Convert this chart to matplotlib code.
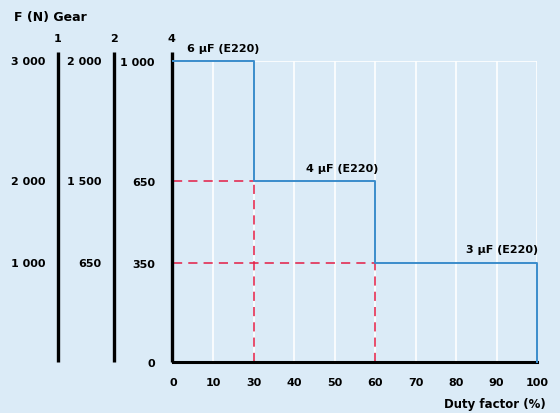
import numpy as np
import matplotlib
matplotlib.use("Agg")
import matplotlib.pyplot as plt

# data
duty = [0, 30, 30, 60, 60, 100, 100]
force = [1000, 1000, 650, 650, 350, 350, 0]
levels = [0, 350, 650, 1000]          # gear 4 force levels (N)
level_pos = [0, 0.33, 0.6, 1.0]       # vertical position of each level on the chart
gear_names = ["1", "2", "4"]
gear1_labels = ["1 000", "2 000", "3 000"]
gear2_labels = ["650", "1 500", "2 000"]
gear4_labels = ["0", "350", "650", "1 000"]
xticks = [0, 10, 30, 40, 50, 60, 70, 80, 90, 100]
caps = ["6 µF (E220)", "4 µF (E220)", "3 µF (E220)"]
cap_x = [0, 60, 100]
cap_y = [1000, 650, 350]
cut_x = [30, 60]
cut_y = [650, 350]

bg = "#dbebf7"
blue = "#3a8ccb"
red = "#e31c45"
plt.rcParams["font.family"] = "DejaVu Sans"
plt.rcParams["font.weight"] = "bold"

fig = plt.figure(figsize=(5.6, 4.14), dpi=100, facecolor=bg)
ax = fig.add_axes([173/560, 1-363/414, 364/560, 301/414], facecolor=bg)

# both axes are spaced evenly per tick, not linearly
yfwd = lambda y: np.interp(y, levels, level_pos)
yinv = lambda p: np.interp(p, level_pos, levels)
ax.set_yscale("function", functions=(yfwd, yinv))
xidx = np.arange(len(xticks))
xfwd = lambda x: np.interp(x, xticks, xidx)
xinv = lambda p: np.interp(p, xidx, xticks)
ax.set_xscale("function", functions=(xfwd, xinv))
ax.set_ylim(0, 1000)
ax.set_xlim(0, 100)

# grid
for x in xticks[1:]:
    ax.axvline(x, color="white", lw=1.2, zorder=0)
ax.axhline(1000, color="white", lw=1.2, zorder=0)

# red guides
for cx, cy in zip(cut_x, cut_y):
    ax.plot([0, cx], [cy, cy], color=red, lw=1.1, ls=(0, (6, 4)), zorder=2)
    ax.plot([cx, cx], [0, cy], color=red, lw=1.1, ls=(0, (6, 4)), zorder=2)

ax.plot(duty, force, color=blue, lw=1.4, zorder=3, clip_on=False)

ax.annotate(caps[0], (cap_x[0], cap_y[0]), xytext=(10, 6), textcoords="offset points",
            ha="left", va="bottom", fontsize=8)
ax.annotate(caps[1], (cap_x[1], cap_y[1]), xytext=(2, 6), textcoords="offset points",
            ha="right", va="bottom", fontsize=8)
ax.annotate(caps[2], (cap_x[2], cap_y[2]), xytext=(1, 6), textcoords="offset points",
            ha="right", va="bottom", fontsize=8)

for s in ["top", "right", "left"]:
    ax.spines[s].set_visible(False)
ax.spines["bottom"].set_linewidth(2.2)

# gear bars
bar_x = [-0.316, -0.162, -0.003]
for bx, name in zip(bar_x, gear_names):
    ax.plot([bx, bx], [0, 1.03], color="black", lw=2.4, transform=ax.transAxes,
            clip_on=False, solid_capstyle="butt")
    ax.text(bx, 1.06, name, transform=ax.transAxes, ha="center", va="bottom", fontsize=8)

ax.set_xticks(xticks)
ax.set_xticklabels([str(v) for v in xticks], fontsize=8)
ax.xaxis.set_minor_locator(matplotlib.ticker.NullLocator())
ax.tick_params(axis="x", length=0, pad=11)
ax.set_yticks(levels)
ax.set_yticklabels(gear4_labels, fontsize=8)
ax.yaxis.set_minor_locator(matplotlib.ticker.NullLocator())
ax.tick_params(axis="y", length=0, pad=13)

tr = ax.get_yaxis_transform()
for lv, lab in zip(levels[1:], gear1_labels):
    ax.text(-0.350, lv, lab, transform=tr, ha="right", va="center", fontsize=8)
for lv, lab in zip(levels[1:], gear2_labels):
    ax.text(-0.196, lv, lab, transform=tr, ha="right", va="center", fontsize=8)

fig.text(14/560, 1-18/414, "F (N) Gear", ha="left", va="center", fontsize=9)
fig.text(546/560, 1-405/414, "Duty factor (%)", ha="right", va="center", fontsize=8.5)

fig.savefig("out.png", dpi=100, facecolor=bg)
